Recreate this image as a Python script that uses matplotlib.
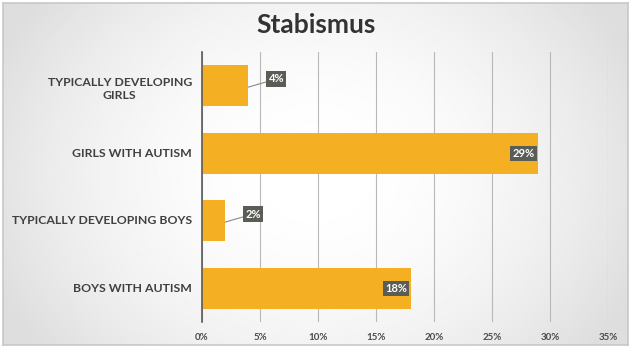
import numpy as np
import matplotlib.pyplot as plt
from matplotlib.transforms import blended_transform_factory, offset_copy
from matplotlib.textpath import TextPath
from matplotlib.font_manager import FontProperties

categories = ['BOYS WITH AUTISM', 'TYPICALLY DEVELOPING BOYS',
              'GIRLS WITH AUTISM', 'TYPICALLY DEVELOPING\nGIRLS']
values = [18, 2, 29, 4]
labels = ['18%', '2%', '29%', '4%']
ticks = [0, 5, 10, 15, 20, 25, 30, 35]

plt.rcParams['font.family'] = ['Lato', 'DejaVu Sans']

fig = plt.figure(figsize=(6.31, 3.53), dpi=100)
W, H = 631, 353

# gray frame with soft radial background
bg = fig.add_axes([3 / W, 1 - 345 / H, 625 / W, 342 / H])
yy, xx = np.mgrid[-1:1:200j, -1:1:300j]
r = np.sqrt((xx * 0.9) ** 2 + (yy * 0.6) ** 2)
bg.imshow(1 - 0.13 * np.clip(r, 0, 1) ** 2, cmap='gray', vmin=0, vmax=1,
          aspect='auto', extent=[0, 1, 0, 1])
bg.set_xticks([])
bg.set_yticks([])
for s in bg.spines.values():
    s.set_color('#c8c8c8')
    s.set_linewidth(1.2)

ax = fig.add_axes([202 / W, 1 - 322 / H, 406 / W, 270 / H])
ax.set_facecolor('none')
ax.barh(range(len(categories)), values, height=0.61, color='#f5af22', zorder=3)
ax.set_xlim(0, 35)
ax.set_ylim(-0.5, 3.5)
ax.set_yticks(range(len(categories)))
ax.set_yticklabels([])
ax.set_xticks(ticks)
ax.set_xticklabels([f'{t}%' for t in ticks], fontsize=7, fontweight='bold',
                   color='#4a4a4a')
ax.tick_params(axis='y', length=0)
ax.tick_params(axis='x', length=0, pad=8)
ax.grid(axis='x', color='#b8b8b8', linewidth=0.8, zorder=0)
for s in ['top', 'right', 'bottom']:
    ax.spines[s].set_visible(False)
ax.spines['left'].set_color('#5a5a5a')
ax.spines['left'].set_linewidth(1.2)
ax.spines['left'].set_zorder(4)

# category labels: block right aligned, each line centred within the block
fp = FontProperties(family='Lato', weight='bold', size=8.8)
base = blended_transform_factory(ax.transAxes, ax.transData)
for i, c in enumerate(categories):
    lines = c.split('\n')
    n = len(lines)
    widths = [TextPath((0, 0), ln, prop=fp).get_extents().width for ln in lines]
    block = max(widths)
    for k, (line, w) in enumerate(zip(lines, widths)):
        dy = (n - 1) / 2 * 4.7 - k * 9.4
        dx = -7.2 - (block - w) / 2
        tr = offset_copy(base, fig=fig, x=dx, y=dy, units='points')
        ax.text(0, i, line, transform=tr, ha='right', va='center',
                fontsize=8.8, fontweight='bold', color='#404040')

box = dict(boxstyle='square,pad=0.2', fc='#595d55', ec='none')
for i, (v, lab) in enumerate(zip(values, labels)):
    if v > 10:
        ax.text(v - 0.35, i, lab, ha='right', va='center', fontsize=8,
                fontweight='bold', color='white', bbox=box, zorder=5)
    else:
        ax.annotate(lab, xy=(v, i - 0.02), xytext=(v + 2.4, i + 0.1),
                    ha='center', va='center', fontsize=8, fontweight='bold',
                    color='white', bbox=box, zorder=5,
                    arrowprops=dict(arrowstyle='-', color='#8a8a8a', lw=0.8,
                                    shrinkA=0, shrinkB=0))

fig.text(316 / W, 1 - 25 / H, 'Stabismus', ha='center', va='center',
         fontsize=19, fontweight='bold', color='#333333')

fig.savefig('out.png', dpi=100)
